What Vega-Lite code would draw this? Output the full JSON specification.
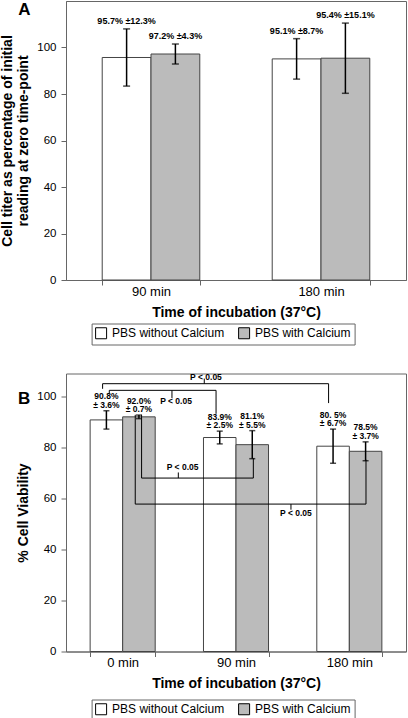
{
  "$schema": "https://vega.github.io/schema/vega-lite/v6.json",
  "background": "white",
  "padding": {"left": 0, "top": 0, "right": 0, "bottom": 0},
  "config": {
    "font": "Liberation Sans",
    "view": {"stroke": "#666", "strokeWidth": 1},
    "axis": {
      "domainColor": "#666", "tickColor": "#666", "tickSize": 5, "grid": false,
      "labelColor": "black", "labelFont": "Liberation Sans", "titleFont": "Liberation Sans",
      "titleFontWeight": "bold", "titleFontSize": 14, "titleColor": "black"
    },
    "axisY": {"labelFontSize": 11.5, "labelPadding": 5, "titlePadding": 6, "titleLineHeight": 16},
    "axisX": {"labelFontSize": 13, "labelAngle": 0, "tickBand": "extent", "labelPadding": 0, "titlePadding": 7},
    "legend": {
      "orient": "none", "direction": "horizontal", "title": null,
      "strokeColor": "#666", "padding": 3.5, "symbolType": "square", "symbolSize": 121,
      "symbolStrokeColor": "black", "symbolStrokeWidth": 1, "labelFontSize": 12,
      "labelFont": "Liberation Sans", "labelColor": "black", "columnPadding": 11, "labelOffset": 5
    },
    "title": {"font": "Liberation Sans", "fontWeight": "bold", "fontSize": 17, "anchor": "start", "frame": "group", "baseline": "alphabetic", "offset": 0}
  },
  "datasets": {
    "A": [
      {"time": "90 min", "group": "PBS without Calcium", "mean": 95.7, "lo": 83.4, "hi": 108.0, "label": "95.7% ±12.3%"},
      {"time": "90 min", "group": "PBS with Calcium", "mean": 97.2, "lo": 92.9, "hi": 101.5, "label": "97.2% ±4.3%"},
      {"time": "180 min", "group": "PBS without Calcium", "mean": 95.1, "lo": 86.4, "hi": 103.8, "label": "95.1% ±8.7%"},
      {"time": "180 min", "group": "PBS with Calcium", "mean": 95.4, "lo": 80.3, "hi": 110.5, "label": "95.4% ±15.1%"}
    ],
    "B": [
      {"time": "0 min", "group": "PBS without Calcium", "mean": 90.8, "lo": 87.2, "hi": 94.4, "label": "90.8%\n± 3.6%"},
      {"time": "0 min", "group": "PBS with Calcium", "mean": 92.0, "lo": 91.3, "hi": 92.7, "label": "92.0%\n± 0.7%"},
      {"time": "90 min", "group": "PBS without Calcium", "mean": 83.9, "lo": 81.4, "hi": 86.4, "label": "83.9%\n± 2.5%"},
      {"time": "90 min", "group": "PBS with Calcium", "mean": 81.1, "lo": 75.6, "hi": 86.6, "label": "81.1%\n± 5.5%"},
      {"time": "180 min", "group": "PBS without Calcium", "mean": 80.5, "lo": 73.8, "hi": 87.2, "label": "80. 5%\n± 6.7%"},
      {"time": "180 min", "group": "PBS with Calcium", "mean": 78.5, "lo": 74.8, "hi": 82.2, "label": "78.5%\n± 3.7%"}
    ],
    "brackets": [
      {"x1": 0.323, "x2": 2.317, "y1": 105.0, "y2": 105.0},
      {"x1": 0.323, "x2": 0.323, "y1": 105.0, "y2": 103.0},
      {"x1": 2.317, "x2": 2.317, "y1": 105.0, "y2": 97.4},
      {"x1": 1.22, "x2": 1.22, "y1": 105.0, "y2": 107.0},
      {"x1": 0.382, "x2": 1.324, "y1": 102.4, "y2": 102.4},
      {"x1": 0.382, "x2": 0.382, "y1": 102.4, "y2": 101.3},
      {"x1": 1.324, "x2": 1.324, "y1": 102.4, "y2": 93.2},
      {"x1": 0.935, "x2": 0.935, "y1": 102.4, "y2": 99.4},
      {"x1": 0.667, "x2": 1.653, "y1": 68.0, "y2": 68.0},
      {"x1": 0.667, "x2": 0.667, "y1": 68.0, "y2": 92.8},
      {"x1": 1.653, "x2": 1.653, "y1": 68.0, "y2": 75.8},
      {"x1": 0.991, "x2": 0.991, "y1": 68.0, "y2": 70.2},
      {"x1": 0.611, "x2": 2.647, "y1": 57.8, "y2": 57.8},
      {"x1": 0.611, "x2": 0.611, "y1": 57.8, "y2": 92.8},
      {"x1": 2.647, "x2": 2.647, "y1": 57.8, "y2": 75.2},
      {"x1": 1.985, "x2": 1.985, "y1": 57.8, "y2": 55.6}
    ],
    "plabels": [
      {"x": 1.235, "y": 107.6, "text": "P < 0.05"},
      {"x": 0.971, "y": 98.3, "text": "P < 0.05"},
      {"x": 1.029, "y": 72.5, "text": "P < 0.05"},
      {"x": 2.029, "y": 54.3, "text": "P < 0.05"}
    ]
  },
  "vconcat": [
    {
      "width": 340,
      "height": 279,
      "title": {"text": "A", "dx": -47.7, "dy": 22},
      "data": {"name": "A"},
      "encoding": {
        "x": {"field": "time", "type": "nominal", "sort": ["90 min", "180 min"],
              "scale": {"paddingInner": 0.426, "paddingOuter": 0.213},
              "axis": {"title": "Time of incubation (37°C)"}},
        "xOffset": {"field": "group", "type": "nominal", "sort": ["PBS without Calcium", "PBS with Calcium"]}
      },
      "layer": [
        {
          "mark": {"type": "bar", "stroke": "#444", "strokeWidth": 1},
          "encoding": {
            "y": {"field": "mean", "type": "quantitative", "scale": {"domain": [0, 120], "nice": false},
                  "axis": {"values": [0, 20, 40, 60, 80, 100], "title": ["Cell titer as percentage of initial", "reading at zero time-point"]}},
            "fill": {"field": "group", "type": "nominal",
                     "scale": {"domain": ["PBS without Calcium", "PBS with Calcium"], "range": ["white", "#bbbbbb"]},
                     "legend": {"legendX": 25.6, "legendY": 322.5}}
          }
        },
        {
          "mark": {"type": "rule", "color": "black", "strokeWidth": 1.5},
          "encoding": {"y": {"field": "lo", "type": "quantitative"}, "y2": {"field": "hi"}}
        },
        {
          "mark": {"type": "tick", "color": "black", "size": 7, "thickness": 1.5},
          "encoding": {"y": {"field": "lo", "type": "quantitative"}}
        },
        {
          "mark": {"type": "tick", "color": "black", "size": 7, "thickness": 1.5},
          "encoding": {"y": {"field": "hi", "type": "quantitative"}}
        },
        {
          "mark": {"type": "text", "fontSize": 9, "fontWeight": "bold", "baseline": "bottom", "dy": -3, "color": "black"},
          "encoding": {"y": {"field": "hi", "type": "quantitative"}, "text": {"field": "label"}}
        }
      ]
    },
    {
      "width": 340,
      "height": 278,
      "title": {"text": "B", "dx": -48, "dy": 39},
      "layer": [
        {
          "data": {"name": "B"},
          "encoding": {
            "x": {"field": "time", "type": "nominal", "sort": ["0 min", "90 min", "180 min"],
                  "scale": {"paddingInner": 0.426, "paddingOuter": 0.213},
                  "axis": {"title": "Time of incubation (37°C)"}},
            "xOffset": {"field": "group", "type": "nominal", "sort": ["PBS without Calcium", "PBS with Calcium"]}
          },
          "layer": [
            {
              "mark": {"type": "bar", "stroke": "#444", "strokeWidth": 1},
              "encoding": {
                "y": {"field": "mean", "type": "quantitative", "scale": {"domain": [0, 109], "nice": false},
                      "axis": {"values": [0, 20, 40, 60, 80, 100], "title": "% Cell Viability"}},
                "fill": {"field": "group", "type": "nominal",
                         "scale": {"domain": ["PBS without Calcium", "PBS with Calcium"], "range": ["white", "#bbbbbb"]},
                         "legend": {"legendX": 25.6, "legendY": 326}}
              }
            },
            {
              "mark": {"type": "rule", "color": "black", "strokeWidth": 1.5},
              "encoding": {"y": {"field": "lo", "type": "quantitative"}, "y2": {"field": "hi"}}
            },
            {
              "mark": {"type": "tick", "color": "black", "size": 6, "thickness": 1.5},
              "encoding": {"y": {"field": "lo", "type": "quantitative"}}
            },
            {
              "mark": {"type": "tick", "color": "black", "size": 6, "thickness": 1.5},
              "encoding": {"y": {"field": "hi", "type": "quantitative"}}
            },
            {
              "mark": {"type": "text", "fontSize": 8.5, "fontWeight": "bold", "baseline": "bottom", "dy": -9.5, "lineBreak": "\n", "lineHeight": 8.7, "color": "black"},
              "encoding": {"y": {"field": "hi", "type": "quantitative"}, "text": {"field": "label"}}
            }
          ]
        },
        {
          "data": {"name": "brackets"},
          "mark": {"type": "rule", "color": "black", "strokeWidth": 1},
          "encoding": {
            "x": {"field": "x1", "type": "quantitative", "scale": {"domain": [0, 3], "nice": false, "zero": false}, "axis": null},
            "x2": {"field": "x2"},
            "y": {"field": "y1", "type": "quantitative"},
            "y2": {"field": "y2"}
          }
        },
        {
          "data": {"name": "plabels"},
          "mark": {"type": "text", "fontSize": 8.5, "fontWeight": "bold", "baseline": "middle", "color": "black"},
          "encoding": {
            "x": {"field": "x", "type": "quantitative", "scale": {"domain": [0, 3], "nice": false, "zero": false}, "axis": null},
            "y": {"field": "y", "type": "quantitative"},
            "text": {"field": "text"}
          }
        }
      ],
      "resolve": {"scale": {"x": "independent"}}
    }
  ],
  "spacing": 26.5,
  "resolve": {"legend": {"fill": "independent"}, "scale": {"xOffset": "independent"}}
}
